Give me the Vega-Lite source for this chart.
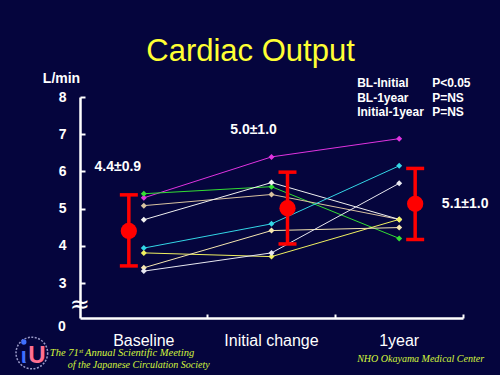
{
  "$schema": "https://vega.github.io/schema/vega-lite/v6.json",
  "width": 383,
  "height": 221,
  "autosize": {"type": "none"},
  "padding": {"left": 80, "top": 97, "right": 37, "bottom": 57},
  "background": "#05053d",
  "config": {"view": {"stroke": null}, "font": "Liberation Sans"},
  "title": {
    "text": "Cardiac Output",
    "color": "#ffff33",
    "fontSize": 31,
    "fontWeight": "normal",
    "font": "Liberation Sans",
    "anchor": "middle",
    "dx": -21,
    "offset": 3
  },
  "datasets": {
    "patients": [
      {"patient": "P1", "period": "Baseline", "co": 5.29},
      {"patient": "P1", "period": "Initial change", "co": 6.39},
      {"patient": "P1", "period": "1year", "co": 6.88},
      {"patient": "P2", "period": "Baseline", "co": 5.40},
      {"patient": "P2", "period": "Initial change", "co": 5.59},
      {"patient": "P2", "period": "1year", "co": 4.20},
      {"patient": "P3", "period": "Baseline", "co": 5.08},
      {"patient": "P3", "period": "Initial change", "co": 5.38},
      {"patient": "P3", "period": "1year", "co": 4.71},
      {"patient": "P4", "period": "Baseline", "co": 4.70},
      {"patient": "P4", "period": "Initial change", "co": 5.70},
      {"patient": "P4", "period": "1year", "co": 4.71},
      {"patient": "P5", "period": "Baseline", "co": 3.94},
      {"patient": "P5", "period": "Initial change", "co": 4.59},
      {"patient": "P5", "period": "1year", "co": 6.15},
      {"patient": "P6", "period": "Baseline", "co": 3.81},
      {"patient": "P6", "period": "Initial change", "co": 3.71},
      {"patient": "P6", "period": "1year", "co": 4.71},
      {"patient": "P7", "period": "Baseline", "co": 3.41},
      {"patient": "P7", "period": "Initial change", "co": 4.41},
      {"patient": "P7", "period": "1year", "co": 4.49},
      {"patient": "P8", "period": "Baseline", "co": 3.32},
      {"patient": "P8", "period": "Initial change", "co": 3.81},
      {"patient": "P8", "period": "1year", "co": 5.68}
    ],
    "means": [
      {"period": "Baseline", "mean": 4.40, "lo": 3.46, "hi": 5.37, "label": "4.4±0.9"},
      {"period": "Initial change", "mean": 5.01, "lo": 4.05, "hi": 5.98, "label": "5.0±1.0"},
      {"period": "1year", "mean": 5.13, "lo": 4.17, "hi": 6.08, "label": "5.1±1.0"}
    ],
    "note": [{}]
  },
  "encoding": {
    "x": {
      "field": "period",
      "type": "nominal",
      "sort": ["Baseline", "Initial change", "1year"],
      "scale": {"type": "band", "domain": ["Baseline", "Initial change", "1year"], "paddingInner": 0, "paddingOuter": 0},
      "axis": {
        "title": null,
        "bandPosition": 1,
        "labelAngle": 0,
        "labelColor": "white",
        "labelFontSize": 16,
        "labelFont": "Liberation Sans",
        "labelPadding": 18,
        "domainColor": "white",
        "domainWidth": 2.5,
        "tickColor": "white",
        "tickWidth": 2,
        "tickSize": -4
      }
    }
  },
  "layer": [
    {
      "data": {"name": "patients"},
      "mark": {"type": "line", "strokeWidth": 1},
      "encoding": {
        "y": {
          "field": "co",
          "type": "quantitative",
          "scale": {"domain": [2.06, 8], "nice": false, "zero": false},
          "axis": {
            "title": "L/min",
            "titleAngle": 0,
            "titleColor": "white",
            "titleFontSize": 14,
            "titleFontWeight": "bold",
            "titleFont": "Liberation Sans",
            "titleAlign": "center",
            "titleBaseline": "middle",
            "titleX": -19,
            "titleY": -19,
            "values": [3, 4, 5, 6, 7, 8],
            "labelColor": "white",
            "labelFontSize": 14,
            "labelFontWeight": "bold",
            "labelFont": "Liberation Sans",
            "labelPadding": 19,
            "grid": false,
            "domainColor": "white",
            "domainWidth": 2.5,
            "tickColor": "white",
            "tickWidth": 2,
            "tickSize": -5
          }
        },
        "detail": {"field": "patient"},
        "color": {
          "field": "patient",
          "type": "nominal",
          "legend": null,
          "scale": {
            "domain": ["P1", "P2", "P3", "P4", "P5", "P6", "P7", "P8"],
            "range": ["#e033e0", "#33dd33", "#d9c3a0", "#f0f0f0", "#33d6e6", "#f0f060", "#f5e6b0", "#e8e8f0"]
          }
        }
      }
    },
    {
      "data": {"name": "patients"},
      "mark": {"type": "point", "shape": "diamond", "filled": true, "size": 36, "opacity": 1},
      "encoding": {
        "y": {"field": "co", "type": "quantitative"},
        "color": {"field": "patient", "type": "nominal", "legend": null}
      }
    },
    {
      "data": {"name": "means"},
      "transform": [{"filter": "datum.period === 'Baseline'"}],
      "layer": [
        {"mark": {"type": "rule", "color": "#ff0000", "strokeWidth": 3.5, "xOffset": -15},
         "encoding": {"y": {"field": "lo", "type": "quantitative"}, "y2": {"field": "hi"}}},
        {"mark": {"type": "tick", "color": "#ff0000", "thickness": 3.5, "size": 18, "xOffset": -15, "opacity": 1},
         "encoding": {"y": {"field": "lo", "type": "quantitative"}}},
        {"mark": {"type": "tick", "color": "#ff0000", "thickness": 3.5, "size": 18, "xOffset": -15, "opacity": 1},
         "encoding": {"y": {"field": "hi", "type": "quantitative"}}},
        {"mark": {"type": "circle", "color": "#ff0000", "size": 265, "opacity": 1, "xOffset": -15},
         "encoding": {"y": {"field": "mean", "type": "quantitative"}}},
        {"mark": {"type": "text", "color": "white", "fontSize": 14, "fontWeight": "bold", "baseline": "middle", "dx": -26, "dy": -64},
         "encoding": {"y": {"field": "mean", "type": "quantitative"}, "text": {"field": "label"}}}
      ]
    },
    {
      "data": {"name": "means"},
      "transform": [{"filter": "datum.period !== 'Baseline'"}],
      "layer": [
        {"mark": {"type": "rule", "color": "#ff0000", "strokeWidth": 3.5, "xOffset": 16},
         "encoding": {"y": {"field": "lo", "type": "quantitative"}, "y2": {"field": "hi"}}},
        {"mark": {"type": "tick", "color": "#ff0000", "thickness": 3.5, "size": 18, "xOffset": 16, "opacity": 1},
         "encoding": {"y": {"field": "lo", "type": "quantitative"}}},
        {"mark": {"type": "tick", "color": "#ff0000", "thickness": 3.5, "size": 18, "xOffset": 16, "opacity": 1},
         "encoding": {"y": {"field": "hi", "type": "quantitative"}}},
        {"mark": {"type": "circle", "color": "#ff0000", "size": 265, "opacity": 1, "xOffset": 16},
         "encoding": {"y": {"field": "mean", "type": "quantitative"}}}
      ]
    },
    {
      "data": {"name": "means"},
      "transform": [{"filter": "datum.period === 'Initial change'"}],
      "mark": {"type": "text", "color": "white", "fontSize": 14, "fontWeight": "bold", "baseline": "middle", "dx": -18, "dy": -78},
      "encoding": {"y": {"field": "mean", "type": "quantitative"}, "text": {"field": "label"}}
    },
    {
      "data": {"name": "means"},
      "transform": [{"filter": "datum.period === '1year'"}],
      "mark": {"type": "text", "color": "white", "fontSize": 14, "fontWeight": "bold", "baseline": "middle", "dx": 66, "dy": 0},
      "encoding": {"y": {"field": "mean", "type": "quantitative"}, "text": {"field": "label"}}
    },
    {
      "data": {"name": "note"},
      "mark": {"type": "text", "text": ["BL-Initial", "BL-1year", "Initial-1year"], "color": "white", "fontSize": 12, "fontWeight": "bold", "align": "left", "baseline": "alphabetic", "lineHeight": 14.5, "dx": -42, "dy": -10},
      "encoding": {"x": {"datum": "1year"}, "y": {"datum": 8, "type": "quantitative"}}
    },
    {
      "data": {"name": "note"},
      "mark": {"type": "text", "text": ["P<0.05", "P=NS", "P=NS"], "color": "white", "fontSize": 12, "fontWeight": "bold", "align": "left", "baseline": "alphabetic", "lineHeight": 14.5, "dx": 33, "dy": -10},
      "encoding": {"x": {"datum": "1year"}, "y": {"datum": 8, "type": "quantitative"}}
    },
    {
      "data": {"name": "note"},
      "mark": {"type": "text", "text": "0", "color": "white", "fontSize": 14, "fontWeight": "bold", "align": "right", "baseline": "middle", "dx": -78, "dy": 9},
      "encoding": {"x": {"datum": "Baseline"}, "y": {"datum": 2.06, "type": "quantitative"}}
    },
    {
      "data": {"name": "note"},
      "mark": {"type": "text", "text": "≈", "color": "white", "fontSize": 24, "font": "DejaVu Sans", "baseline": "middle", "dx": -64},
      "encoding": {"x": {"datum": "Baseline"}, "y": {"datum": 2.42, "type": "quantitative"}}
    },
    {
      "data": {"name": "note"},
      "mark": {"type": "point", "shape": "circle", "filled": false, "stroke": "#9a9ac8", "strokeWidth": 1.5, "strokeDash": [2, 1.5], "size": 1000, "opacity": 1, "xOffset": -112, "yOffset": 35},
      "encoding": {"x": {"datum": "Baseline"}, "y": {"datum": 2.06, "type": "quantitative"}}
    },
    {
      "data": {"name": "note"},
      "mark": {"type": "text", "text": "U", "color": "#ff6f91", "fontSize": 24, "fontWeight": "bold", "baseline": "middle", "dx": -107, "dy": 38},
      "encoding": {"x": {"datum": "Baseline"}, "y": {"datum": 2.06, "type": "quantitative"}}
    },
    {
      "data": {"name": "note"},
      "mark": {"type": "text", "text": "ι", "color": "#3f6fff", "fontSize": 22, "fontWeight": "bold", "baseline": "middle", "dx": -120, "dy": 38},
      "encoding": {"x": {"datum": "Baseline"}, "y": {"datum": 2.06, "type": "quantitative"}}
    },
    {
      "data": {"name": "note"},
      "mark": {"type": "point", "shape": "circle", "filled": true, "color": "#3f6fff", "size": 28, "opacity": 1, "xOffset": -120, "yOffset": 24},
      "encoding": {"x": {"datum": "Baseline"}, "y": {"datum": 2.06, "type": "quantitative"}}
    },
    {
      "data": {"name": "note"},
      "mark": {"type": "text", "text": "The 71ˢᵗ Annual Scientific Meeting", "color": "#d4f53c", "fontSize": 10.5, "font": "Liberation Serif", "fontStyle": "italic", "align": "left", "baseline": "alphabetic", "dx": -94, "dy": 38},
      "encoding": {"x": {"datum": "Baseline"}, "y": {"datum": 2.06, "type": "quantitative"}}
    },
    {
      "data": {"name": "note"},
      "mark": {"type": "text", "text": "of the Japanese Circulation Society", "color": "#d4f53c", "fontSize": 10, "font": "Liberation Serif", "fontStyle": "italic", "align": "left", "baseline": "alphabetic", "dx": -76, "dy": 50},
      "encoding": {"x": {"datum": "Baseline"}, "y": {"datum": 2.06, "type": "quantitative"}}
    },
    {
      "data": {"name": "note"},
      "mark": {"type": "text", "text": "NHO Okayama Medical Center", "color": "#d4f53c", "fontSize": 10, "font": "Liberation Serif", "fontStyle": "italic", "align": "left", "baseline": "alphabetic", "dx": -42, "dy": 44},
      "encoding": {"x": {"datum": "1year"}, "y": {"datum": 2.06, "type": "quantitative"}}
    }
  ]
}
